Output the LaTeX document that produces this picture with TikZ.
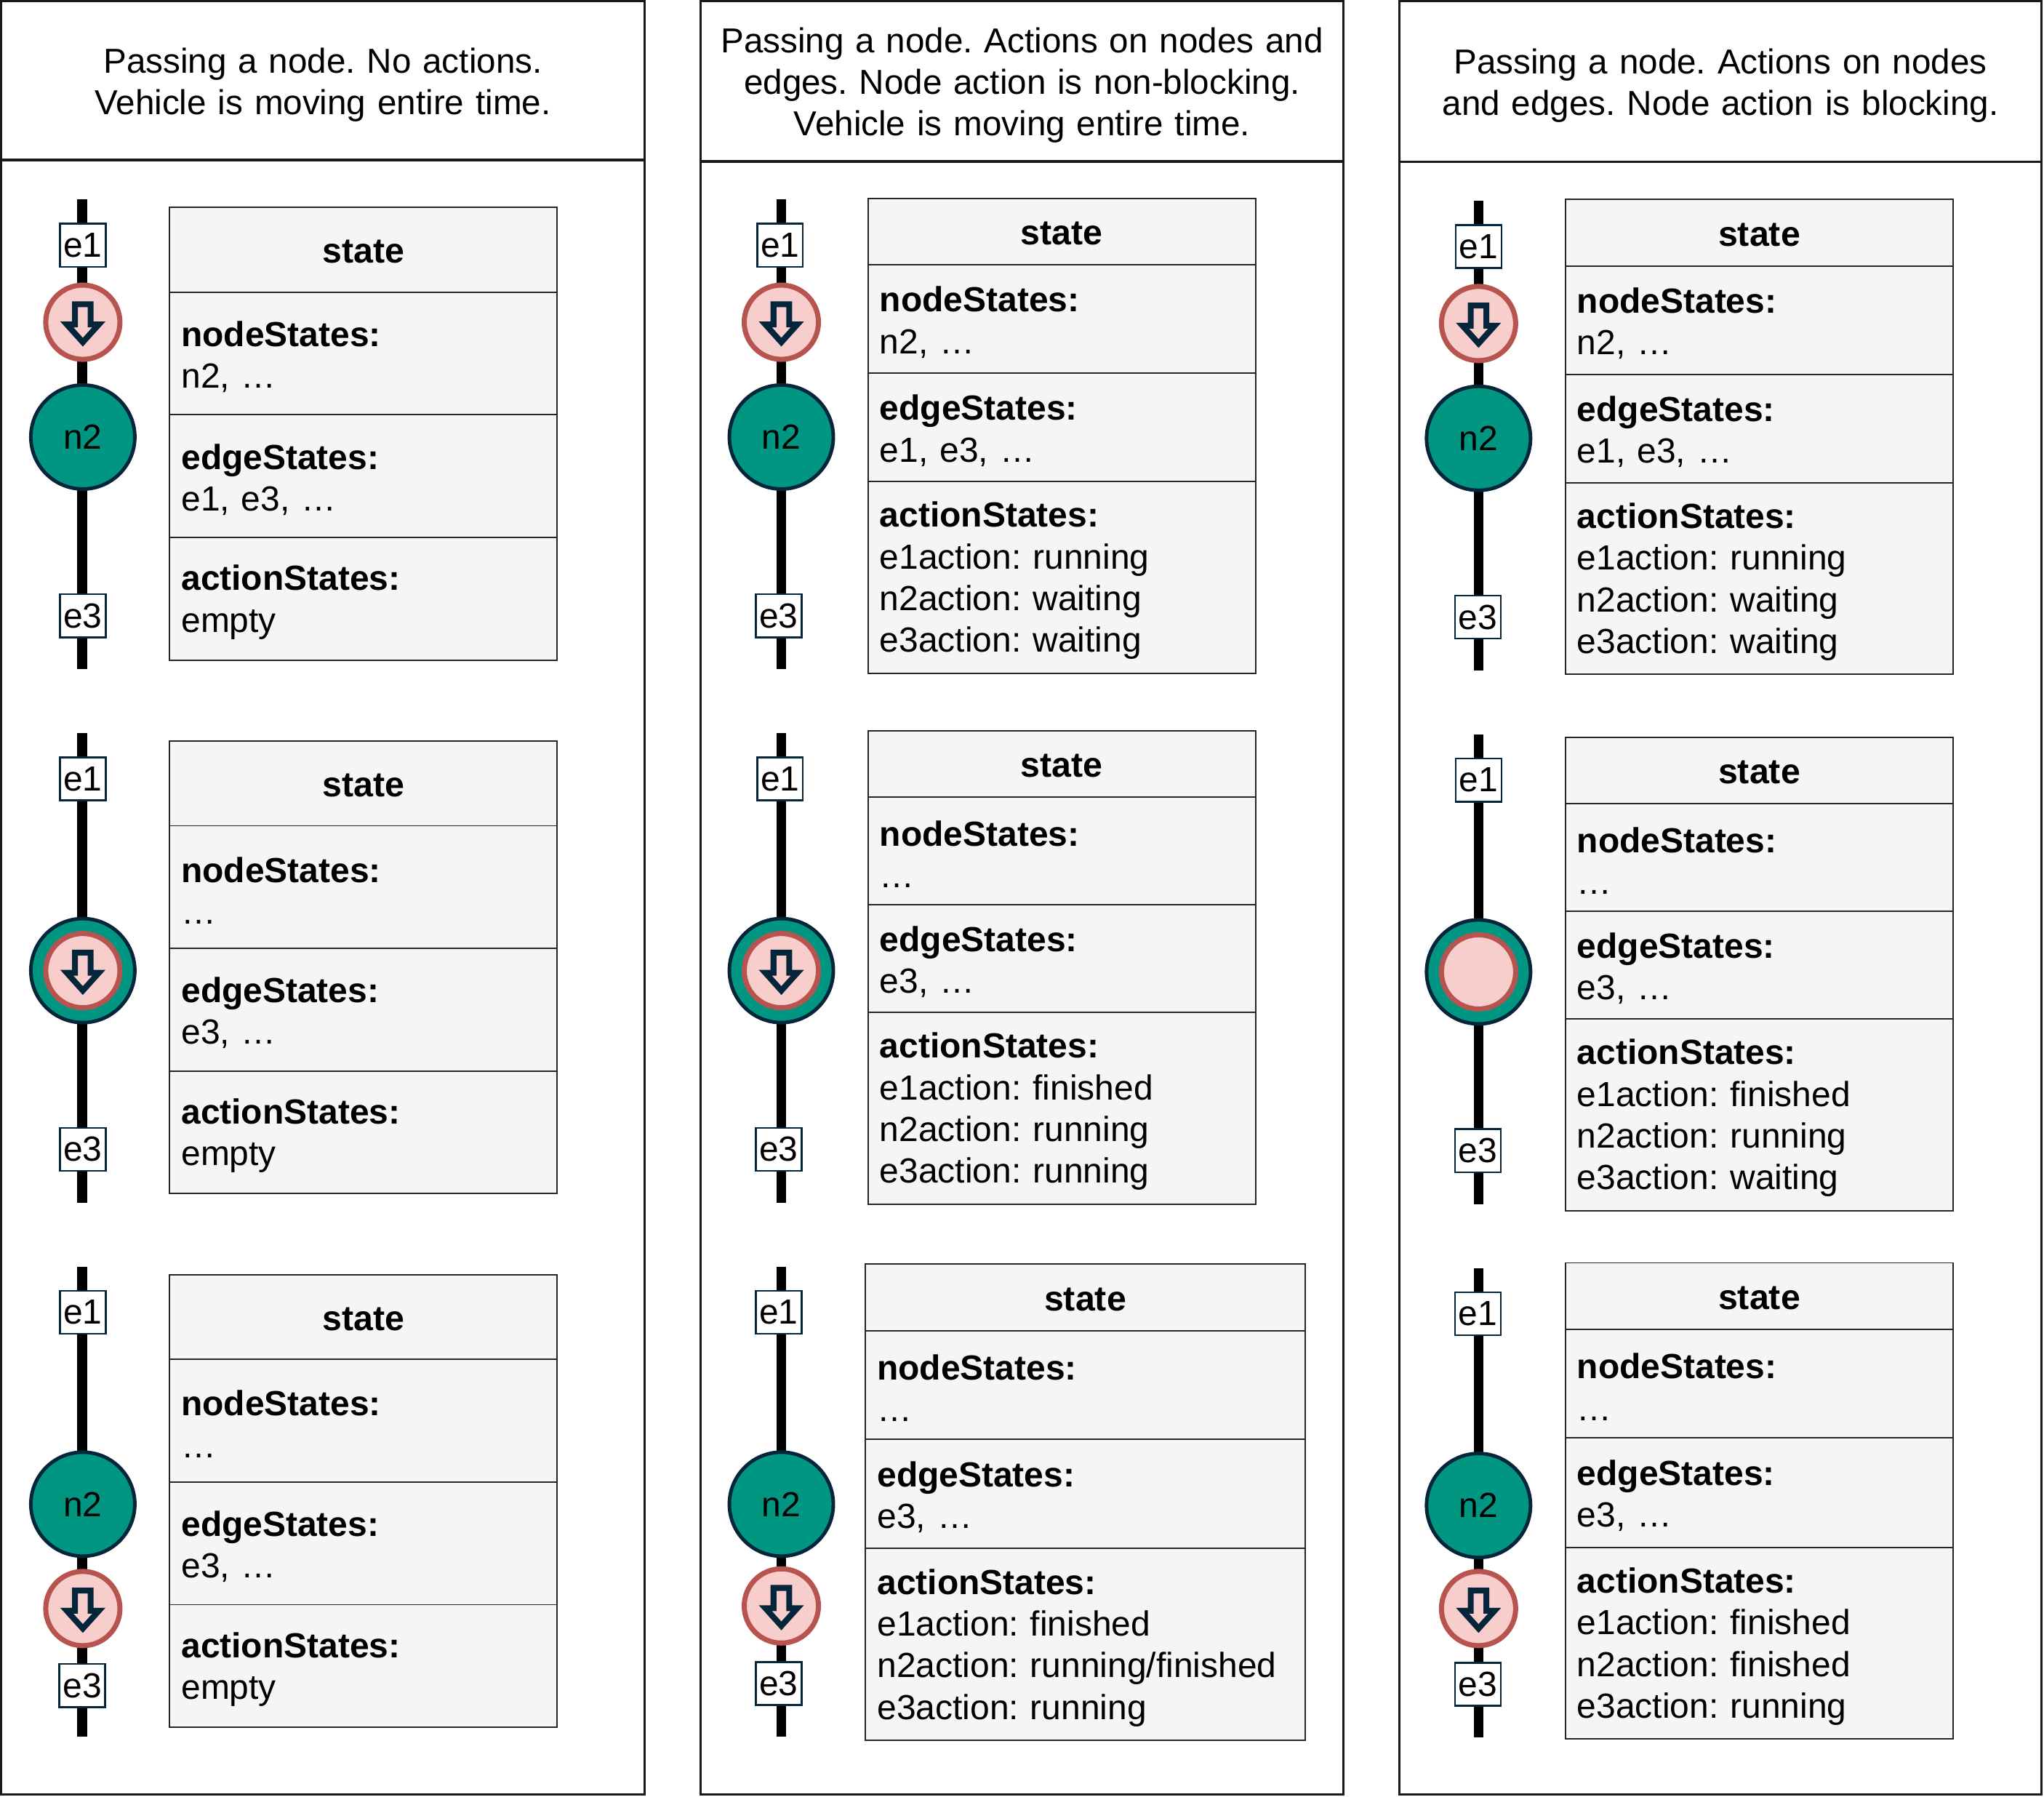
\documentclass[tikz,border=0pt]{standalone}
\usepackage{fontspec}
\setmainfont{Liberation Sans}
\usetikzlibrary{positioning}
\frenchspacing
\definecolor{navy}{HTML}{05253A}
\definecolor{teal2}{HTML}{009682}
\definecolor{pinkfill}{HTML}{F8CECC}
\definecolor{pinkline}{HTML}{B85450}
\definecolor{statefill}{HTML}{F5F5F5}
\def\pxu{0.01794cm}
\def\rowht{12.5pt}
\tikzset{
  labelfont/.style={font=\fontsize{13.65}{16.3}\selectfont},
  panelbox/.style 2 args={draw=black!90,line width=0.8pt,outer sep=0,inner sep=0,anchor=north west,
    minimum width=#1*\pxu,minimum height=#2*\pxu,text width=(#1-4)*\pxu,align=center,
    font=\fontsize{13.55}{16.3}\selectfont,
    execute at begin node={\rule{0pt}{13pt}}},
  staterow/.style 2 args={draw=black!85,line width=0.55pt,fill=statefill,outer sep=0,
    inner xsep=9*\pxu,inner ysep=0,anchor=north west,minimum width=#1*\pxu,minimum height=#2*\pxu,
    text width=(#1-18)*\pxu,align=left,labelfont,
    execute at begin node={\rule{0pt}{\rowht}}},
  titlerow/.style={align=center,font=\fontsize{13.75}{16.3}\selectfont\bfseries,
    /utils/exec={\def\rowht{10.6pt}}},
  track/.style={line width=7.4*\pxu,black},
  edgebox/.style={draw=navy,line width=0.7pt,fill=white,inner sep=0,outer sep=0,
    minimum width=35*\pxu,minimum height=33*\pxu,labelfont},
  nodedisc/.style={circle,draw=navy,line width=1.4pt,fill=teal2,inner sep=0,outer sep=0,
    minimum size=79.7*\pxu,labelfont},
  vehicle/.style={circle,draw=pinkline,line width=3.9*\pxu,fill=pinkfill,inner sep=0,outer sep=0,
    minimum size=56.9*\pxu},
  downmark/.pic={
    \draw[navy,line width=4.5*\pxu,miter limit=10] (-6,-13.8) -- (6,-13.8) -- (6,1.7) -- (12.25,1.7)
      -- (0,15.3) -- (-12.25,1.7) -- (-6,1.7) -- cycle;
  }
}
\begin{document}
\begin{tikzpicture}[x=\pxu,y=-\pxu]
  \useasboundingbox (0,0) rectangle (1567,1377);
  % panels
  \node[panelbox={493}{1252.5}] (body1) at (1,123) {};
  \node[panelbox={493}{1251.5}] (body2) at (537,124) {};
  \node[panelbox={492}{1251.5}] (body3) at (1073,124) {};
  \node[panelbox={493}{121.5}] (head1) at (1,1) {Passing a node. No actions.\\Vehicle is moving entire time.};
  \node[panelbox={493}{122.5}] (head2) at (537,1) {Passing a node. Actions on nodes and\\edges. Node action is non-blocking.\\Vehicle is moving entire time.};
  \node[panelbox={492}{123}] (head3) at (1073,1) {Passing a node. Actions on nodes\\and edges. Node action is blocking.};
  % tracks
  \coordinate (top11) at (63,153);  \coordinate (bot11) at (63,513);
  \coordinate (top12) at (63,562);  \coordinate (bot12) at (63,922);
  \coordinate (top13) at (63,971);  \coordinate (bot13) at (63,1331);
  \coordinate (top21) at (599,153); \coordinate (bot21) at (599,513);
  \coordinate (top22) at (599,562); \coordinate (bot22) at (599,922);
  \coordinate (top23) at (599,971); \coordinate (bot23) at (599,1331);
  \coordinate (top31) at (1133.5,154); \coordinate (bot31) at (1133.5,514);
  \coordinate (top32) at (1133.5,563); \coordinate (bot32) at (1133.5,923);
  \coordinate (top33) at (1133.5,972); \coordinate (bot33) at (1133.5,1332);
  \draw[track] (top11) -- (bot11);
  \draw[track] (top12) -- (bot12);
  \draw[track] (top13) -- (bot13);
  \draw[track] (top21) -- (bot21);
  \draw[track] (top22) -- (bot22);
  \draw[track] (top23) -- (bot23);
  \draw[track] (top31) -- (bot31);
  \draw[track] (top32) -- (bot32);
  \draw[track] (top33) -- (bot33);
  % edges
  \node[edgebox] (e111) at (63.5,188) {e1};
  \node[edgebox] (e311) at (63.5,472) {e3};
  \node[edgebox] (e112) at (63.5,597) {e1};
  \node[edgebox] (e312) at (63.5,881) {e3};
  \node[edgebox] (e113) at (63.5,1006) {e1};
  \node[edgebox] (e313) at (63,1292) {e3};
  \node[edgebox] (e121) at (598,188) {e1};
  \node[edgebox] (e321) at (597,472) {e3};
  \node[edgebox] (e122) at (598,597) {e1};
  \node[edgebox] (e322) at (597,881) {e3};
  \node[edgebox] (e123) at (597,1006) {e1};
  \node[edgebox] (e323) at (597,1290.5) {e3};
  \node[edgebox] (e131) at (1133.5,189) {e1};
  \node[edgebox] (e331) at (1133,473) {e3};
  \node[edgebox] (e132) at (1133.5,598) {e1};
  \node[edgebox] (e332) at (1133,882) {e3};
  \node[edgebox] (e133) at (1133,1007) {e1};
  \node[edgebox] (e333) at (1133,1291) {e3};
  % nodes
  \node[nodedisc] (n211) at (63.5,335) {n2};
  \node[nodedisc] (n212) at (63.5,744) {};
  \node[nodedisc] (n213) at (63.5,1153) {n2};
  \node[nodedisc] (n221) at (599,335) {n2};
  \node[nodedisc] (n222) at (599,744) {};
  \node[nodedisc] (n223) at (599,1153) {n2};
  \node[nodedisc] (n231) at (1133.5,336) {n2};
  \node[nodedisc] (n232) at (1133.5,745) {};
  \node[nodedisc] (n233) at (1133.5,1154) {n2};
  % vehicles
  \node[vehicle] (v11) at (63.5,247) {};
  \node[vehicle] (v12) at (63.5,744) {};
  \node[vehicle] (v13) at (63.5,1233) {};
  \node[vehicle] (v21) at (599,247) {};
  \node[vehicle] (v22) at (599,744) {};
  \node[vehicle] (v23) at (599,1231) {};
  \node[vehicle] (v31) at (1133.5,248) {};
  \node[vehicle] (v32) at (1133.5,745) {};
  \node[vehicle] (v33) at (1133.5,1233) {};
  \pic at (v11) {downmark};
  \pic at (v12) {downmark};
  \pic at (v13) {downmark};
  \pic at (v21) {downmark};
  \pic at (v22) {downmark};
  \pic at (v23) {downmark};
  \pic at (v31) {downmark};
  \pic at (v33) {downmark};
  % first column
  \node[staterow={297}{65},titlerow] (st11) at (130,159) {state};
  \node[staterow={297}{94}] (ns11) at (130,224) {\textbf{nodeStates:}\\n2, …};
  \node[staterow={297}{94}] (es11) at (130,318) {\textbf{edgeStates:}\\e1, e3, …};
  \node[staterow={297}{94}] (as11) at (130,412) {\textbf{actionStates:}\\empty};
  \node[staterow={297}{65},titlerow] (st12) at (130,568) {state};
  \node[staterow={297}{94}] (ns12) at (130,633) {\textbf{nodeStates:}\\…};
  \node[staterow={297}{94}] (es12) at (130,727) {\textbf{edgeStates:}\\e3, …};
  \node[staterow={297}{94}] (as12) at (130,821) {\textbf{actionStates:}\\empty};
  \node[staterow={297}{65},titlerow] (st13) at (130,977) {state};
  \node[staterow={297}{94}] (ns13) at (130,1042) {\textbf{nodeStates:}\\…};
  \node[staterow={297}{94}] (es13) at (130,1136) {\textbf{edgeStates:}\\e3, …};
  \node[staterow={297}{94}] (as13) at (130,1230) {\textbf{actionStates:}\\empty};
  % second column
  \node[staterow={297}{51},titlerow] (st21) at (665.5,152) {state};
  \node[staterow={297}{83}] (ns21) at (665.5,203) {\textbf{nodeStates:}\\n2, …};
  \node[staterow={297}{83}] (es21) at (665.5,286) {\textbf{edgeStates:}\\e1, e3, …};
  \node[staterow={297}{147}] (as21) at (665.5,369) {\textbf{actionStates:}\\e1action: running\\n2action: waiting\\e3action: waiting};
  \node[staterow={297}{51},titlerow] (st22) at (665.5,560) {state};
  \node[staterow={297}{82.5}] (ns22) at (665.5,611) {\textbf{nodeStates:}\\…};
  \node[staterow={297}{82.5}] (es22) at (665.5,693.5) {\textbf{edgeStates:}\\e3, …};
  \node[staterow={297}{147}] (as22) at (665.5,776) {\textbf{actionStates:}\\e1action: finished\\n2action: running\\e3action: running};
  \node[staterow={337}{51},titlerow] (st23) at (663.5,969) {state};
  \node[staterow={337}{83}] (ns23) at (663.5,1020) {\textbf{nodeStates:}\\…};
  \node[staterow={337}{84}] (es23) at (663.5,1103) {\textbf{edgeStates:}\\e3, …};
  \node[staterow={337}{147}] (as23) at (663.5,1187) {\textbf{actionStates:}\\e1action: finished\\n2action: running/finished\\e3action: running};
  % third column
  \node[staterow={297.5}{51},titlerow] (st31) at (1200,153) {state};
  \node[staterow={297.5}{83}] (ns31) at (1200,204) {\textbf{nodeStates:}\\n2, …};
  \node[staterow={297.5}{83}] (es31) at (1200,287) {\textbf{edgeStates:}\\e1, e3, …};
  \node[staterow={297.5}{147}] (as31) at (1200,370) {\textbf{actionStates:}\\e1action: running\\n2action: waiting\\e3action: waiting};
  \node[staterow={297.5}{51},titlerow] (st32) at (1200,565) {state};
  \node[staterow={297.5}{82.5}] (ns32) at (1200,616) {\textbf{nodeStates:}\\…};
  \node[staterow={297.5}{82.5}] (es32) at (1200,698.5) {\textbf{edgeStates:}\\e3, …};
  \node[staterow={297.5}{147}] (as32) at (1200,781) {\textbf{actionStates:}\\e1action: finished\\n2action: running\\e3action: waiting};
  \node[staterow={297.5}{51},titlerow] (st33) at (1200,968) {state};
  \node[staterow={297.5}{83}] (ns33) at (1200,1019) {\textbf{nodeStates:}\\…};
  \node[staterow={297.5}{84}] (es33) at (1200,1102) {\textbf{edgeStates:}\\e3, …};
  \node[staterow={297.5}{147}] (as33) at (1200,1186) {\textbf{actionStates:}\\e1action: finished\\n2action: finished\\e3action: running};
\end{tikzpicture}
\end{document}
